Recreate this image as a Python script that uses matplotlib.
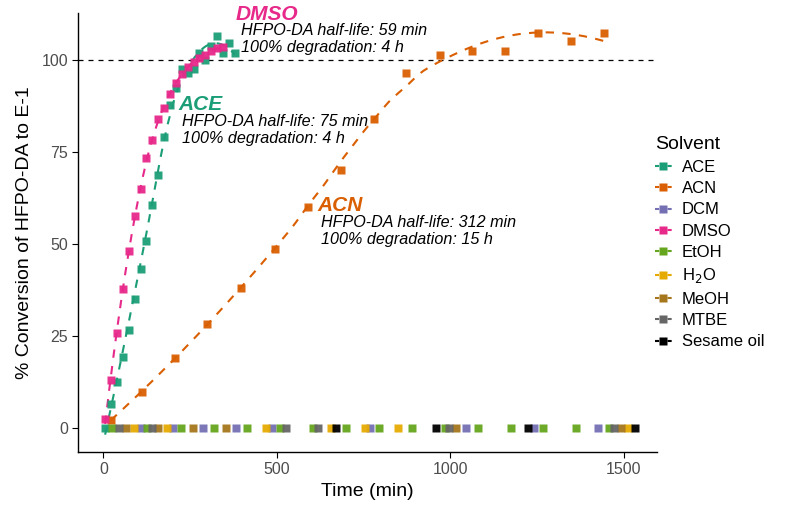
import numpy as np
import matplotlib
matplotlib.use("Agg")
import matplotlib.pyplot as plt
from matplotlib.lines import Line2D

plt.rcParams["font.family"] = ["Liberation Sans", "DejaVu Sans"]

# Solvents and colours (Dark2 + black)
solvents = ["ACE", "ACN", "DCM", "DMSO", "EtOH", "H2O", "MeOH", "MTBE", "Sesame oil"]
solvent_labels = ["ACE", "ACN", "DCM", "DMSO", "EtOH", "H$_2$O", "MeOH", "MTBE", "Sesame oil"]
colors = ["#1B9E77", "#D95F02", "#7570B3", "#E7298A", "#66A61E",
          "#E6AB02", "#A6761D", "#666666", "#000000"]

# ACE and DMSO sampled at the same times
ace_time = [5, 22, 39, 56, 73, 90, 107, 124, 141, 158, 175, 192, 209, 226,
            243, 260, 277, 294, 311, 328, 345, 362, 379]
ace_conv = [0, 6.5, 12.6, 19.4, 26.6, 35.2, 43.2, 50.9, 60.7, 68.8, 79.2, 87.8,
            92.5, 97.5, 96.5, 97.5, 101.8, 100.0, 103.8, 106.5, 102.0, 104.7, 101.8]

dmso_time = [5, 22, 39, 56, 73, 90, 107, 124, 141, 158, 175, 192, 209, 226,
             243, 260, 277, 294, 311, 328, 345]
dmso_conv = [2.4, 13.0, 26.0, 37.7, 48.2, 57.6, 65.1, 73.3, 78.4, 83.9, 87.1,
             90.8, 93.8, 96.2, 98.0, 99.5, 100.5, 101.5, 102.5, 103.2, 103.6]

acn_time = [21, 111, 207, 298, 396, 494, 589, 685, 780, 871, 969, 1062, 1158,
            1253, 1347, 1444]
acn_conv = [2.2, 9.9, 19.1, 28.3, 38.2, 48.6, 60.1, 70.1, 84.0, 96.4, 101.5,
            102.5, 102.5, 107.4, 105.2, 107.4]

# solvents with no conversion (all at 0 %)
dcm_time = [108, 200, 286, 381, 485, 768, 1046, 1241, 1425]
etoh_time = [25, 126, 223, 320, 414, 510, 603, 699, 794, 890, 984, 1079, 1175,
             1267, 1363, 1456]
h2o_time = [88, 183, 470, 656, 754, 849, 1511]
meoh_time = [64, 156, 257, 352, 1016, 1492]
mtbe_time = [44, 140, 527, 618, 997, 1471]
sesame_time = [670, 960, 1224, 1533]


def loess(x, y, xs, span=0.75):
    # local quadratic fit, tricube weights (like R's loess default)
    x = np.asarray(x, float)
    y = np.asarray(y, float)
    n = len(x)
    k = int(np.ceil(span * n))
    out = []
    for x0 in xs:
        d = np.abs(x - x0)
        h = np.sort(d)[k - 1]
        w = np.clip(1 - (d / h) ** 3, 0, None) ** 3
        X = np.vstack([np.ones(n), x - x0, (x - x0) ** 2]).T
        W = np.diag(w)
        beta = np.linalg.lstsq(X.T @ W @ X, X.T @ W @ y, rcond=None)[0]
        out.append(beta[0])
    return np.array(out)


fig = plt.figure(figsize=(8, 5.17), dpi=100)
ax = fig.add_axes([0.098, 0.126, 0.723, 0.849])

ax.axhline(100, color="black", lw=0.9, ls=(0, (4, 4)), zorder=1)

zero_sets = {"DCM": dcm_time, "EtOH": etoh_time, "H2O": h2o_time,
             "MeOH": meoh_time, "MTBE": mtbe_time, "Sesame oil": sesame_time}
curves = {"ACE": (ace_time, ace_conv), "ACN": (acn_time, acn_conv),
          "DMSO": (dmso_time, dmso_conv)}

for s, c in zip(solvents, colors):
    if s in curves:
        t, v = curves[s]
    else:
        t = zero_sets[s]
        v = [0] * len(t)
    ax.plot(t, v, ls="none", marker="s", ms=6, color=c, alpha=0.95,
            mec="none", zorder=3)

for s in ["ACE", "ACN", "DMSO"]:
    t, v = curves[s]
    c = colors[solvents.index(s)]
    xs = np.linspace(min(t), max(t), 200)
    ax.plot(xs, loess(t, v, xs), color=c, lw=1.5, ls=(0, (4, 4)), zorder=2)

ax.set_xlim(-72, 1595)
ax.set_ylim(-6.4, 112.8)
ax.set_xticks([0, 500, 1000, 1500])
ax.set_yticks([0, 25, 50, 75, 100])
ax.tick_params(labelsize=11.5, labelcolor="#4D4D4D", length=4, width=0.8)
for sp in ["top", "right"]:
    ax.spines[sp].set_visible(False)
for sp in ["left", "bottom"]:
    ax.spines[sp].set_linewidth(1.0)

ax.set_xlabel("Time (min)", fontsize=14)
ax.set_ylabel("% Conversion of HFPO-DA to E-1", fontsize=14, labelpad=6)

notes = [("DMSO", 382, 112.5, 398, ["HFPO-DA half-life: 59 min", "100% degradation: 4 h"]),
         ("ACE", 215, 88, 227, ["HFPO-DA half-life: 75 min", "100% degradation: 4 h"]),
         ("ACN", 617, 60.6, 628, ["HFPO-DA half-life: 312 min", "100% degradation: 15 h"])]
for name, x, y, x2, lines in notes:
    c = colors[solvents.index(name)]
    ax.text(x, y, name, color=c, fontsize=15, fontweight="bold", style="italic",
            va="center", ha="left", zorder=5)
    ax.text(x2, y - 4.6, lines[0], fontsize=11.6, style="italic",
            va="center", ha="left", zorder=5)
    ax.text(x2, y - 9.2, lines[1], fontsize=11.6, style="italic",
            va="center", ha="left", zorder=5)

handles = [Line2D([0], [0], color=c, ls=(0, (2, 1)), lw=1.5, marker="s", ms=6,
                  mec="none") for c in colors]
leg = fig.legend(handles, solvent_labels, title="Solvent", loc="upper left",
                 bbox_to_anchor=(0.8, 0.765), frameon=False, fontsize=12,
                 title_fontsize=14, handlelength=1.0, handletextpad=0.6,
                 labelspacing=0.38, alignment="left")

fig.savefig("out.png", dpi=100)
